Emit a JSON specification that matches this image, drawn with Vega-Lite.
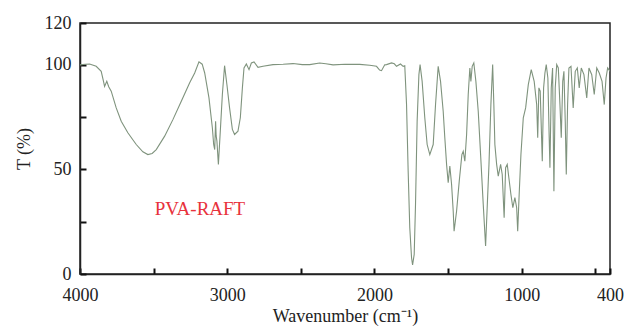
{
  "$schema": "https://vega.github.io/schema/vega-lite/v6.json",
  "autosize": {"type": "none"},
  "padding": {"left": 80, "top": 23, "right": 18, "bottom": 59},
  "width": 530,
  "height": 251,
  "background": "white",
  "config": {
    "view": {"stroke": "#222222", "strokeWidth": 1.5},
    "font": "Liberation Serif",
    "axis": {"grid": false, "domainColor": "#222222", "domainWidth": 1.5, "tickColor": "#111111", "tickWidth": 2, "labelFont": "Liberation Serif", "titleFont": "Liberation Serif", "labelFontSize": 18, "titleFontSize": 18, "titleFontWeight": "normal", "labelColor": "#222222", "titleColor": "#222222"}
  },
  "datasets": {
    "spectrum": [
      {"wn": 4000, "T": 100}, {"wn": 3965, "T": 100.3}, {"wn": 3935, "T": 100.4}, {"wn": 3890, "T": 99.3}, {"wn": 3856, "T": 96.9},
      {"wn": 3840, "T": 92}, {"wn": 3833, "T": 89.7}, {"wn": 3818, "T": 92.1}, {"wn": 3805, "T": 89.5}, {"wn": 3788, "T": 87.4},
      {"wn": 3754, "T": 79.4}, {"wn": 3720, "T": 73.0}, {"wn": 3675, "T": 67.5}, {"wn": 3618, "T": 61.9}, {"wn": 3573, "T": 58.4},
      {"wn": 3539, "T": 57.1}, {"wn": 3510, "T": 57.6}, {"wn": 3482, "T": 59.5}, {"wn": 3425, "T": 65.9}, {"wn": 3369, "T": 73.8},
      {"wn": 3312, "T": 82.6}, {"wn": 3255, "T": 91.4}, {"wn": 3221, "T": 96.1}, {"wn": 3192, "T": 101.4}, {"wn": 3170, "T": 100.3},
      {"wn": 3153, "T": 96.1}, {"wn": 3124, "T": 84.2}, {"wn": 3101, "T": 69.9}, {"wn": 3092, "T": 61.9}, {"wn": 3085, "T": 59.5},
      {"wn": 3079, "T": 73.0}, {"wn": 3075, "T": 66}, {"wn": 3070, "T": 63.5}, {"wn": 3060, "T": 52.4}, {"wn": 3047, "T": 68.3},
      {"wn": 3033, "T": 85.8}, {"wn": 3018, "T": 99.6}, {"wn": 3002, "T": 90.5}, {"wn": 2984, "T": 79.4}, {"wn": 2965, "T": 69.1},
      {"wn": 2950, "T": 66.7}, {"wn": 2927, "T": 68.3}, {"wn": 2911, "T": 74.7}, {"wn": 2897, "T": 89.0}, {"wn": 2886, "T": 98.5},
      {"wn": 2870, "T": 100.4}, {"wn": 2852, "T": 97.7}, {"wn": 2836, "T": 100.9}, {"wn": 2818, "T": 101.4}, {"wn": 2791, "T": 98.8},
      {"wn": 2757, "T": 99.3}, {"wn": 2689, "T": 100.1}, {"wn": 2620, "T": 100.3}, {"wn": 2553, "T": 100.6}, {"wn": 2490, "T": 100.1},
      {"wn": 2440, "T": 100.1}, {"wn": 2372, "T": 100.9}, {"wn": 2330, "T": 100.5}, {"wn": 2281, "T": 100}, {"wn": 2200, "T": 100.3},
      {"wn": 2100, "T": 100.2}, {"wn": 2032, "T": 99.8}, {"wn": 1986, "T": 99.3}, {"wn": 1965, "T": 97.5}, {"wn": 1952, "T": 97.2},
      {"wn": 1930, "T": 100}, {"wn": 1918, "T": 100.1}, {"wn": 1884, "T": 100.9}, {"wn": 1865, "T": 100.5}, {"wn": 1850, "T": 99.3},
      {"wn": 1823, "T": 100.4}, {"wn": 1805, "T": 99.3}, {"wn": 1794, "T": 99.6}, {"wn": 1782, "T": 81}, {"wn": 1771, "T": 49.2},
      {"wn": 1760, "T": 22.1}, {"wn": 1748, "T": 7.8}, {"wn": 1741, "T": 4.3}, {"wn": 1730, "T": 9.4}, {"wn": 1721, "T": 33.3},
      {"wn": 1710, "T": 73}, {"wn": 1698, "T": 95.3}, {"wn": 1690, "T": 100.1}, {"wn": 1676, "T": 92.1}, {"wn": 1658, "T": 74.7},
      {"wn": 1642, "T": 61.9}, {"wn": 1624, "T": 57.1}, {"wn": 1601, "T": 61.9}, {"wn": 1585, "T": 81}, {"wn": 1567, "T": 99.3},
      {"wn": 1551, "T": 92.1}, {"wn": 1533, "T": 77.8}, {"wn": 1522, "T": 65.1}, {"wn": 1510, "T": 52.4}, {"wn": 1499, "T": 43.6},
      {"wn": 1488, "T": 51.6}, {"wn": 1476, "T": 42.8}, {"wn": 1465, "T": 30.1}, {"wn": 1459, "T": 20.5}, {"wn": 1442, "T": 30.1},
      {"wn": 1424, "T": 44.4}, {"wn": 1406, "T": 57.1}, {"wn": 1397, "T": 58.7}, {"wn": 1386, "T": 53.9}, {"wn": 1374, "T": 66.7},
      {"wn": 1363, "T": 85.8}, {"wn": 1352, "T": 98.5}, {"wn": 1345, "T": 92.1}, {"wn": 1336, "T": 99.3}, {"wn": 1325, "T": 100.9},
      {"wn": 1311, "T": 92.1}, {"wn": 1295, "T": 77.8}, {"wn": 1279, "T": 57.1}, {"wn": 1261, "T": 33.3}, {"wn": 1245, "T": 13.4},
      {"wn": 1238, "T": 25.3}, {"wn": 1222, "T": 52.4}, {"wn": 1209, "T": 81}, {"wn": 1197, "T": 100.1}, {"wn": 1189, "T": 81},
      {"wn": 1182, "T": 61.9}, {"wn": 1170, "T": 52.4}, {"wn": 1159, "T": 46.8}, {"wn": 1143, "T": 52.4}, {"wn": 1132, "T": 47.6},
      {"wn": 1119, "T": 26.9}, {"wn": 1109, "T": 50.8}, {"wn": 1098, "T": 52.4}, {"wn": 1087, "T": 46}, {"wn": 1073, "T": 38},
      {"wn": 1060, "T": 31.7}, {"wn": 1046, "T": 36.5}, {"wn": 1034, "T": 31.7}, {"wn": 1027, "T": 20.5}, {"wn": 1017, "T": 38},
      {"wn": 1005, "T": 57.1}, {"wn": 989, "T": 74.7}, {"wn": 973, "T": 79.4}, {"wn": 955, "T": 90.5}, {"wn": 935, "T": 97.7},
      {"wn": 915, "T": 92.1}, {"wn": 898, "T": 81}, {"wn": 891, "T": 65.1}, {"wn": 883, "T": 89}, {"wn": 874, "T": 87.4},
      {"wn": 860, "T": 53.9}, {"wn": 851, "T": 89}, {"wn": 842, "T": 96.1}, {"wn": 833, "T": 100.1}, {"wn": 822, "T": 93.7},
      {"wn": 813, "T": 65.1}, {"wn": 808, "T": 50.8}, {"wn": 799, "T": 89}, {"wn": 790, "T": 98.5}, {"wn": 781, "T": 39.6},
      {"wn": 772, "T": 89}, {"wn": 762, "T": 100.1}, {"wn": 751, "T": 98.5}, {"wn": 740, "T": 81}, {"wn": 731, "T": 65.1},
      {"wn": 721, "T": 92.1}, {"wn": 713, "T": 96.9}, {"wn": 704, "T": 73}, {"wn": 697, "T": 47.6}, {"wn": 688, "T": 81},
      {"wn": 679, "T": 98.5}, {"wn": 665, "T": 99.3}, {"wn": 650, "T": 79.4}, {"wn": 636, "T": 96.9}, {"wn": 622, "T": 98.5},
      {"wn": 609, "T": 89}, {"wn": 595, "T": 98.5}, {"wn": 577, "T": 95.3}, {"wn": 558, "T": 84.2}, {"wn": 543, "T": 98.5},
      {"wn": 524, "T": 95.3}, {"wn": 507, "T": 85.8}, {"wn": 490, "T": 98.5}, {"wn": 473, "T": 96.1}, {"wn": 454, "T": 92.1},
      {"wn": 439, "T": 81}, {"wn": 427, "T": 93.7}, {"wn": 416, "T": 98.5}, {"wn": 400, "T": 96.9}
    ],
    "labels": [{"wn": 3185, "T": 31, "label": "PVA-RAFT"}]
  },
  "layer": [
    {
      "data": {"name": "spectrum"},
      "mark": {"type": "line", "color": "#7f937d", "strokeWidth": 1.1, "clip": true},
      "encoding": {
        "x": {
          "field": "wn", "type": "quantitative",
          "scale": {"domain": [400, 4000], "reverse": true, "nice": false, "zero": false},
          "axis": {
            "title": "Wavenumber (cm⁻¹)",
            "values": [4000, 3500, 3000, 2500, 2000, 1500, 1000, 500, 400],
            "format": "d",
            "labelExpr": "indexof([4000,3000,2000,1000,400], datum.value) >= 0 ? datum.label : ''",
            "tickSize": -6,
            "labelPadding": 18,
            "labelFlush": false,
            "labelOverlap": false,
            "titlePadding": 3
          }
        },
        "y": {
          "field": "T", "type": "quantitative",
          "scale": {"domain": [0, 120], "nice": false},
          "axis": {
            "title": "T (%)",
            "values": [0, 25, 50, 75, 100, 120],
            "labelExpr": "indexof([0,50,100,120], datum.value) >= 0 ? datum.label : ''",
            "tickSize": -6,
            "labelPadding": 15,
            "labelFlush": false,
            "labelOverlap": false,
            "titlePadding": 11
          }
        }
      }
    },
    {
      "data": {"name": "labels"},
      "mark": {"type": "text", "color": "#e8323c", "fontSize": 19, "font": "Liberation Serif", "align": "center", "baseline": "middle"},
      "encoding": {
        "x": {"field": "wn", "type": "quantitative"},
        "y": {"field": "T", "type": "quantitative"},
        "text": {"field": "label"}
      }
    }
  ]
}
